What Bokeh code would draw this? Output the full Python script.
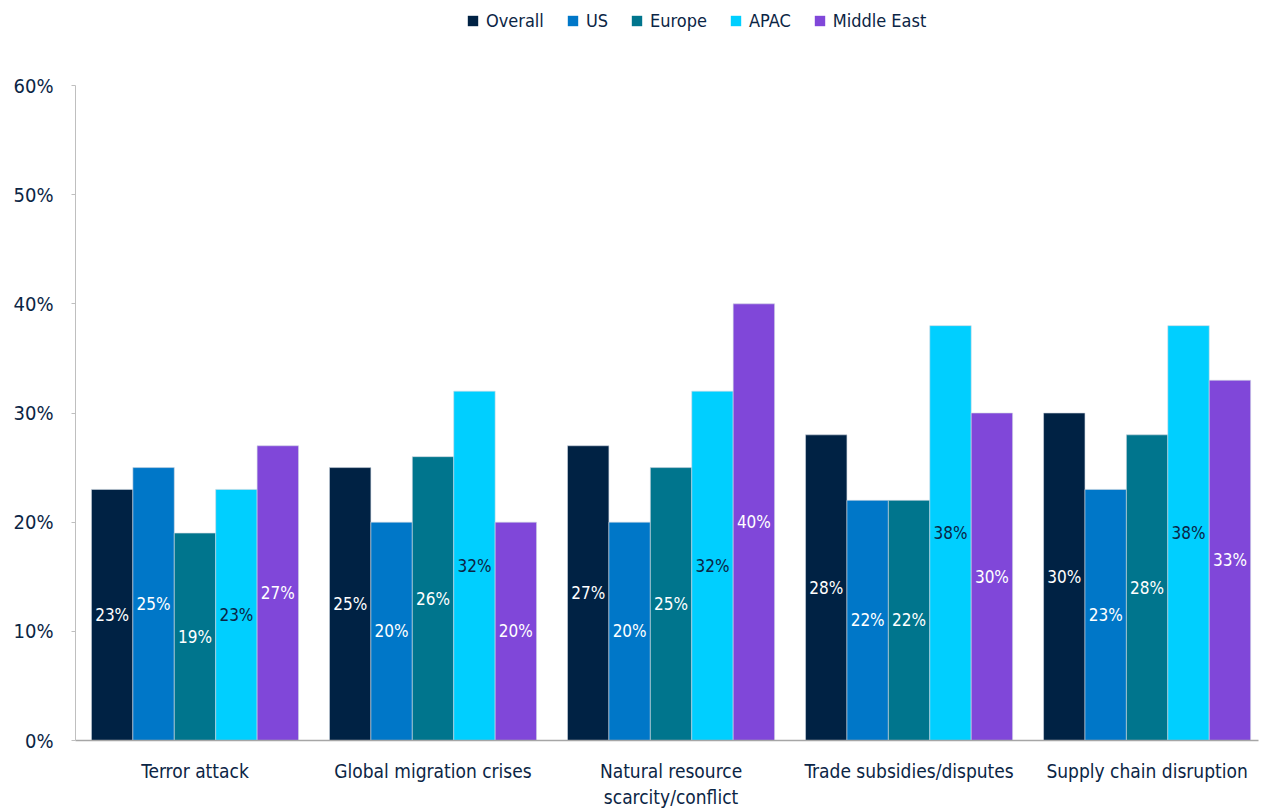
from bokeh.plotting import figure
from bokeh.layouts import column
from bokeh.models import (ColumnDataSource, Range1d, FixedTicker, PrintfTickFormatter,
                          Legend, LegendItem)
from bokeh.core.properties import value
from bokeh.embed import file_html
from bokeh.resources import INLINE

categories = ["Terror attack", "Global migration crises", "Natural resource\nscarcity/conflict",
              "Trade subsidies/disputes", "Supply chain disruption"]
series_names = ["Overall", "US", "Europe", "APAC", "Middle East"]
overall = [23, 25, 27, 28, 30]
us = [25, 20, 20, 22, 23]
europe = [19, 26, 25, 22, 28]
apac = [23, 32, 32, 38, 38]
middle_east = [27, 20, 40, 30, 33]
y_ticks = [0, 10, 20, 30, 40, 50, 60]

series_values = [overall, us, europe, apac, middle_east]
colors = ["#002244", "#0077c8", "#00758d", "#00cfff", "#8047d9"]
label_colors = ["white", "white", "white", "#0b2545", "white"]
NAVY = "#0b2545"
FONT = "DejaVu Sans Condensed"

# ---- legend strip (its swatch glyphs lie below its visible range) ----
lf = figure(width=1261, height=40, output_backend="svg", toolbar_location=None,
            x_range=Range1d(0, 1), y_range=Range1d(0, 1),
            min_border_left=0, min_border_right=0, min_border_top=0, min_border_bottom=0)
lf.axis.visible = False
lf.grid.visible = False
lf.outline_line_color = None
items = []
for name, c in zip(series_names, colors):
    r = lf.vbar(x=[0.5], bottom=[-3], top=[-2], width=0.1, fill_color=c, line_color=None)
    items.append(LegendItem(label=name, renderers=[r]))
legend = Legend(items=items, orientation="horizontal", location=(391, 9),
                glyph_width=13, glyph_height=13, label_standoff=7, spacing=22,
                padding=0, margin=0, border_line_color=None, background_fill_alpha=0,
                label_text_font=FONT, label_text_font_size="18px", label_text_color=NAVY)
lf.add_layout(legend, "center")

# ---- main chart ----
p = figure(width=1261, height=770, output_backend="svg", toolbar_location=None,
           x_range=Range1d(-0.502, 4.468), y_range=Range1d(0, 60),
           min_border_left=75, min_border_right=3, min_border_top=45, min_border_bottom=60)
p.outline_line_color = None
p.xgrid.visible = False
p.ygrid.visible = False

bw = 0.174
for j, (name, vals) in enumerate(zip(series_names, series_values)):
    xs = [i + (j - 2) * bw for i in range(len(categories))]
    src = ColumnDataSource(dict(x=xs, top=vals, mid=[v / 2 for v in vals],
                                lab=[f"{v}%" for v in vals]))
    p.vbar(x="x", top="top", bottom=0, width=bw, source=src, fill_color=colors[j],
           line_color="#d0d8e2", line_width=0.6)
    p.text(x="x", y="mid", text="lab", source=src, text_align="center", text_baseline="middle",
           text_color=label_colors[j], text_font=value(FONT), text_font_size="17px")

xa = p.xaxis[0]
xa.ticker = FixedTicker(ticks=list(range(len(categories))))
xa.major_label_overrides = {i: c for i, c in enumerate(categories)}
xa.major_tick_line_color = None
xa.minor_tick_line_color = None
xa.axis_line_color = "#a6a6a6"
xa.axis_line_width = 1.5
xa.major_label_text_font = FONT
xa.major_label_text_font_size = "19px"
xa.major_label_text_color = NAVY
xa.major_label_standoff = 13

ya = p.yaxis[0]
ya.ticker = FixedTicker(ticks=y_ticks)
ya.formatter = PrintfTickFormatter(format="%d%%")
ya.minor_tick_line_color = None
ya.major_tick_in = 0
ya.major_tick_out = 4
ya.major_tick_line_color = "#bfbfbf"
ya.axis_line_color = "#bfbfbf"
ya.major_label_text_font = FONT
ya.major_label_text_font_size = "20px"
ya.major_label_text_color = NAVY
ya.major_label_standoff = 18

layout = column(lf, p, spacing=0)
open("out.html", "w").write(file_html(layout, INLINE))
